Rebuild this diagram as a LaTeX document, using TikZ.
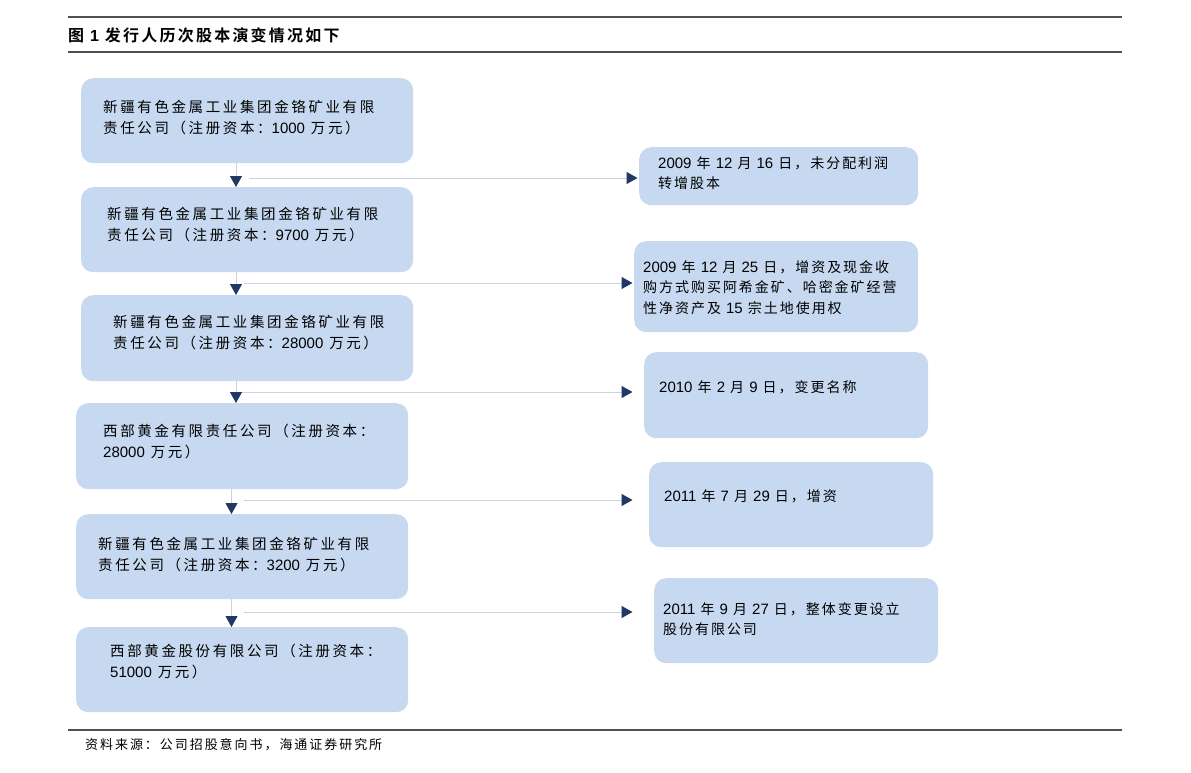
\documentclass[tikz,border=0pt]{standalone}
\usepackage{fontspec}
\setmainfont{Liberation Sans}
\newfontfamily\cjkL[LetterSpace=18]{Noto Sans CJK SC}
\newfontfamily\cjkR[LetterSpace=14]{Noto Sans CJK SC}
\newfontfamily\cjkT[LetterSpace=14]{Noto Sans CJK SC Bold}
\newfontfamily\cjkS[LetterSpace=15]{Noto Sans CJK SC}
\newcommand\D[1]{{\rmfamily\fontsize{15}{21}\selectfont #1}}
\newcommand\DB[1]{{\rmfamily\bfseries #1}}
\usetikzlibrary{arrows.meta}
\definecolor{boxblue}{HTML}{C6D9F0}
\definecolor{connc}{HTML}{C9D2DF}
\definecolor{navy}{HTML}{1F3864}
\definecolor{rulec}{HTML}{505050}
\tikzset{
  box/.style={fill=boxblue, draw=none, rounded corners=12pt, inner sep=0pt, anchor=north west},
  ltxt/.style={font=\fontsize{14.5}{21}\selectfont\cjkL, align=left, inner sep=0pt, anchor=north west},
  rtxt/.style={font=\fontsize{14}{20.8}\selectfont\cjkR, align=left, inner sep=0pt, anchor=north west},
  vconn/.style={draw=connc, line width=1pt, -{Triangle[length=11pt,width=12pt,color=navy]}},
  hconn/.style={draw=connc, line width=1pt, -{Triangle[length=11pt,width=12pt,color=navy]}, shorten >=1.5pt},
  rulel/.style={draw=rulec, line width=1.4pt}
}
\begin{document}
\begin{tikzpicture}[x=1pt,y=-1pt]
\path[use as bounding box] (0,0) rectangle (1191,773);
% rules
\coordinate (rl1) at (68,17); \coordinate (rr1) at (1122,17);
\coordinate (rl2) at (68,52); \coordinate (rr2) at (1122,52);
\coordinate (rl3) at (68,730); \coordinate (rr3) at (1122,730);
\draw[rulel] (rl1) -- (rr1);
\draw[rulel] (rl2) -- (rr2);
\draw[rulel] (rl3) -- (rr3);
\node[anchor=west, inner sep=0pt, font=\fontsize{16}{18}\selectfont\cjkT] (title) at (68,35) {图 \DB{1} 发行人历次股本演变情况如下};
\node[anchor=west, inner sep=0pt, font=\fontsize{13}{15}\selectfont\cjkS] (src) at (85,745) {资料来源：公司招股意向书，海通证券研究所};
% left boxes
\node[box, minimum width=332pt, minimum height=85pt] (b1) at (81,78) {};
\node[box, minimum width=332pt, minimum height=85pt] (b2) at (81,187) {};
\node[box, minimum width=332pt, minimum height=86pt] (b3) at (81,295) {};
\node[box, minimum width=332pt, minimum height=86pt] (b4) at (76,403) {};
\node[box, minimum width=332pt, minimum height=85pt] (b5) at (76,514) {};
\node[box, minimum width=332pt, minimum height=85pt] (b6) at (76,627) {};
\node[ltxt] (t1) at (103,100) {新疆有色金属工业集团金铬矿业有限\\责任公司（注册资本：\D{1000} 万元）};
\node[ltxt] (t2) at (107,207) {新疆有色金属工业集团金铬矿业有限\\责任公司（注册资本：\D{9700} 万元）};
\node[ltxt] (t3) at (113,315) {新疆有色金属工业集团金铬矿业有限\\责任公司（注册资本：\D{28000} 万元）};
\node[ltxt] (t4) at (103,424) {西部黄金有限责任公司（注册资本：\\\D{28000} 万元）};
\node[ltxt] (t5) at (98,537) {新疆有色金属工业集团金铬矿业有限\\责任公司（注册资本：\D{3200} 万元）};
\node[ltxt] (t6) at (110,644) {西部黄金股份有限公司（注册资本：\\\D{51000} 万元）};
% right boxes
\node[box, minimum width=279pt, minimum height=58pt] (r1) at (639,147) {};
\node[box, minimum width=284pt, minimum height=91pt] (r2) at (634,241) {};
\node[box, minimum width=284pt, minimum height=86pt] (r3) at (644,352) {};
\node[box, minimum width=284pt, minimum height=85pt] (r4) at (649,462) {};
\node[box, minimum width=284pt, minimum height=85pt] (r5) at (654,578) {};
\node[rtxt] (s1) at (658,156) {\D{2009} 年 \D{12} 月 \D{16} 日，未分配利润\\转增股本};
\node[rtxt] (s2) at (643,260) {\D{2009} 年 \D{12} 月 \D{25} 日，增资及现金收\\购方式购买阿希金矿、哈密金矿经营\\性净资产及 \D{15} 宗土地使用权};
\node[rtxt] (s3) at (659,380) {\D{2010} 年 \D{2} 月 \D{9} 日，变更名称};
\node[rtxt] (s4) at (664,489) {\D{2011} 年 \D{7} 月 \D{29} 日，增资};
\node[rtxt] (s5) at (663,602) {\D{2011} 年 \D{9} 月 \D{27} 日，整体变更设立\\股份有限公司};
% vertical connectors
\coordinate (v1) at (236,0);
\coordinate (v2) at (231.5,0);
\draw[vconn] (b1.south -| v1) -- (b2.north -| v1);
\draw[vconn] (b2.south -| v1) -- (b3.north -| v1);
\draw[vconn] (b3.south -| v1) -- (b4.north -| v1);
\draw[vconn] (b4.south -| v2) -- (b5.north -| v2);
\draw[vconn] (b5.south -| v2) -- (b6.north -| v2);
% horizontal connectors
\coordinate (h1) at (249,178);
\coordinate (h2) at (244,283);
\coordinate (h3) at (242,392);
\coordinate (h4) at (244,500);
\coordinate (h5) at (244,612);
\draw[hconn] (h1) -- (h1 -| r1.west);
\draw[hconn] (h2) -- (h2 -| r2.west);
\draw[hconn] (h3) -- ([xshift=-10pt]h3 -| r3.west);
\draw[hconn] (h4) -- ([xshift=-15pt]h4 -| r4.west);
\draw[hconn] (h5) -- ([xshift=-20pt]h5 -| r5.west);
\end{tikzpicture}
\end{document}
